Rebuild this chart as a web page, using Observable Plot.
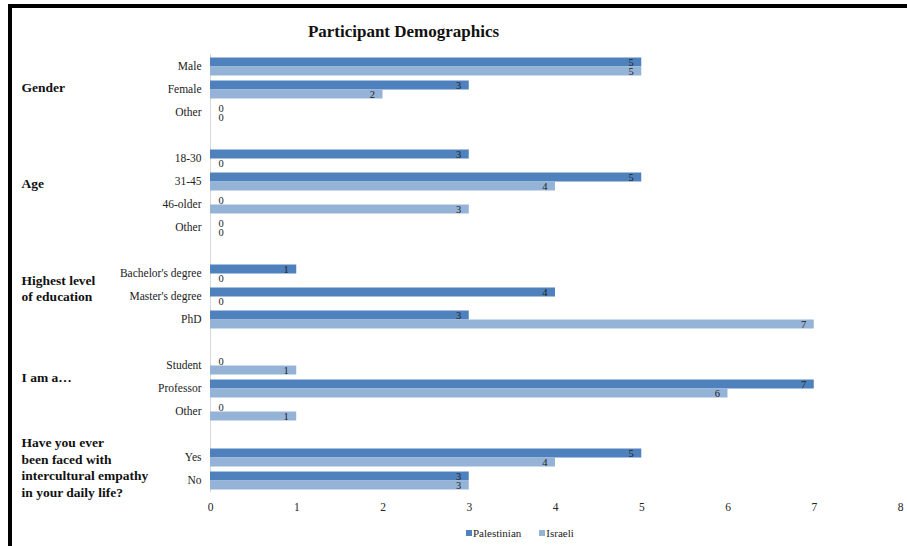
<!DOCTYPE html>
<html>
<head>
<meta charset="utf-8">
<script src="https://cdn.jsdelivr.net/npm/d3@7"></script>
<script src="https://cdn.jsdelivr.net/npm/@observablehq/plot@0.6"></script>
<style>
  html, body { margin: 0; padding: 0; background: #fff; }
  body { position: relative; width: 907px; height: 546px; overflow: hidden;
         font-family: "Liberation Serif", "Times New Roman", serif; color: #222; }
  #frame { position: absolute; left: 8px; top: 4px; width: 920px; height: 560px;
           border-top: 4px solid #000; border-left: 4px solid #000; }
  #chart { position: absolute; left: 0; top: 0; }
  #title { position: absolute; left: 0; top: 22px; width: 807px; text-align: center;
           font-weight: bold; font-size: 17px; line-height: 20px; color: #111; }
  #legend { position: absolute; left: 466px; top: 526px; font-size: 11px; line-height: 14px;
            display: flex; align-items: center; color: #222; }
  #legend .item { display: flex; align-items: center; margin-right: 18px; }
  #legend .swatch { display: inline-block; width: 6px; height: 6px; margin-right: 1px; }
</style>
</head>
<body>
<div id="frame"></div>
<div id="chart"></div>
<div id="title">Participant Demographics</div>
<div id="legend"></div>
<script>
// Survey questions (groups) and their answer categories
const groups = [
  "Gender",
  "Age",
  "Highest level\nof education",
  "I am a…",
  "Have you ever\nbeen faced with\nintercultural empathy\nin your daily life?"
];
const categories = [
  ["Male", "Female", "Other"],
  ["18-30", "31-45", "46-older", "Other"],
  ["Bachelor's degree", "Master's degree", "PhD"],
  ["Student", "Professor", "Other"],
  ["Yes", "No"]
];
// Number of participants per answer
const palestinian = [[5, 3, 0], [3, 5, 0, 0], [1, 4, 3], [0, 7, 0], [5, 3]];
const israeli     = [[5, 2, 0], [0, 4, 3, 0], [0, 0, 7], [1, 6, 1], [4, 3]];
const series = ["Palestinian", "Israeli"];
const colors = ["#4f81bd", "#95b3d7"];
const xTicks = [0, 1, 2, 3, 4, 5, 6, 7, 8];

// Answer used to anchor each group title, and its vertical nudge
const groupAnchor = ["Female", "31-45", "Master's degree", "Professor", "Yes"];
const groupDy = [-3, 1, -9, -12, 9];

// Row keys: one per answer, with an empty row between question groups
const rowKeys = [];
const rowLabel = new Map();
const rows = [];
groups.forEach((g, gi) => {
  if (gi > 0) {
    const gap = `gap${gi}`;
    rowKeys.push(gap);
    rowLabel.set(gap, "");
    rows.push({row: gap, series: series[0], value: null});
  }
  categories[gi].forEach((c, ci) => {
    const key = `${gi}:${c}`;
    rowKeys.push(key);
    rowLabel.set(key, c);
    rows.push({row: key, series: series[0], value: palestinian[gi][ci]});
    rows.push({row: key, series: series[1], value: israeli[gi][ci]});
  });
});
const bars = rows.filter(d => d.value != null);
const groupLabels = groups.map((g, gi) => ({row: `${gi}:${groupAnchor[gi]}`, text: g, dy: groupDy[gi]}));

const chart = Plot.plot({
  width: 907,
  height: 522,
  marginLeft: 210,
  marginRight: 7,
  marginTop: 49.5,
  marginBottom: 24.5,
  style: {fontFamily: "'Liberation Serif', 'Times New Roman', serif", fontSize: "11.5px", color: "#222", background: "transparent"},
  x: {domain: [0, 8], ticks: xTicks, tickSize: 0, tickPadding: 13, label: null, tickFormat: d => String(d)},
  y: {domain: series, padding: 0, axis: null},
  fy: {domain: rowKeys, padding: 0.2, axis: "left", tickSize: 0, tickPadding: 9, label: null, tickFormat: k => rowLabel.get(k)},
  color: {domain: series, range: colors},
  marks: [
    Plot.ruleX(rows, {x: () => 0, fy: "row", stroke: "#d9d9d9", strokeWidth: 1, insetTop: -3, insetBottom: -3}),
    Plot.barX(bars, {x: "value", y: "series", fy: "row", fill: "series"}),
    Plot.text(bars.filter(d => d.value > 0), {
      x: "value", y: "series", fy: "row", text: d => String(d.value),
      textAnchor: "end", dx: -8, fill: "#222", fontSize: 10.5
    }),
    Plot.text(bars.filter(d => d.value === 0), {
      x: "value", y: "series", fy: "row", text: d => String(d.value),
      textAnchor: "start", dx: 8, fill: "#222", fontSize: 10.5
    }),
    ...groupLabels.map(d => Plot.text([d], {
      fy: "row", text: "text", frameAnchor: "left", textAnchor: "start",
      dx: -189, dy: d.dy, fontWeight: "bold", fontSize: 13.5, lineHeight: 1.23, fill: "#111"
    }))
  ]
});
document.getElementById("chart").appendChild(chart);

// Legend built from the same series and colours
const legend = document.getElementById("legend");
series.forEach((s, i) => {
  const item = document.createElement("span");
  item.className = "item";
  const sw = document.createElement("span");
  sw.className = "swatch";
  sw.style.background = colors[i];
  item.appendChild(sw);
  item.appendChild(document.createTextNode(s));
  legend.appendChild(item);
});
</script>
</body>
</html>
